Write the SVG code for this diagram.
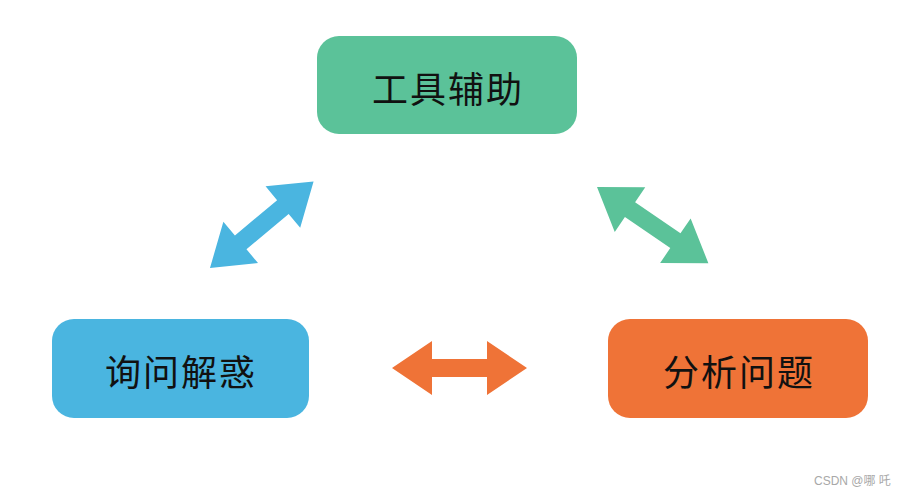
<svg xmlns="http://www.w3.org/2000/svg" width="907" height="496" viewBox="0 0 907 496">
<defs>
<style>
.lbl{font-family:"Noto Sans CJK SC","Noto Sans",sans-serif;font-size:36px;fill:#111;text-anchor:middle;dominant-baseline:central;font-weight:400;letter-spacing:2px}
.wm{font-family:"Liberation Sans","Noto Sans CJK SC",sans-serif;font-size:12px;fill:#a8a8a8}
</style>
<polygon id="dbl" points="0,0 40,-27 40,-9 95,-9 95,-27 135,0 95,27 95,9 40,9 40,27"/>
</defs>
<rect width="907" height="496" fill="#fff"/>
<g id="node-tools">
<rect x="317" y="36" width="260" height="98" rx="22" fill="#5BC299"/>
<text class="lbl" x="448" y="87">工具辅助</text>
</g>
<g id="node-ask">
<rect x="52" y="319" width="257" height="99" rx="22" fill="#4AB5E0"/>
<text class="lbl" x="181" y="370">询问解惑</text>
</g>
<g id="node-analyze">
<rect x="608" y="319" width="260" height="99" rx="22" fill="#EF7337"/>
<text class="lbl" x="739" y="370">分析问题</text>
</g>
<g id="connectors">
<use href="#dbl" fill="#4AB5E0" transform="translate(210,268) rotate(-39.9)"/>
<use href="#dbl" fill="#5BC299" transform="translate(597,187) rotate(34.4)"/>
<use href="#dbl" fill="#EF7337" transform="translate(392,368)"/>
</g>
<text class="wm" x="814" y="485">CSDN @哪 吒</text>
</svg>
